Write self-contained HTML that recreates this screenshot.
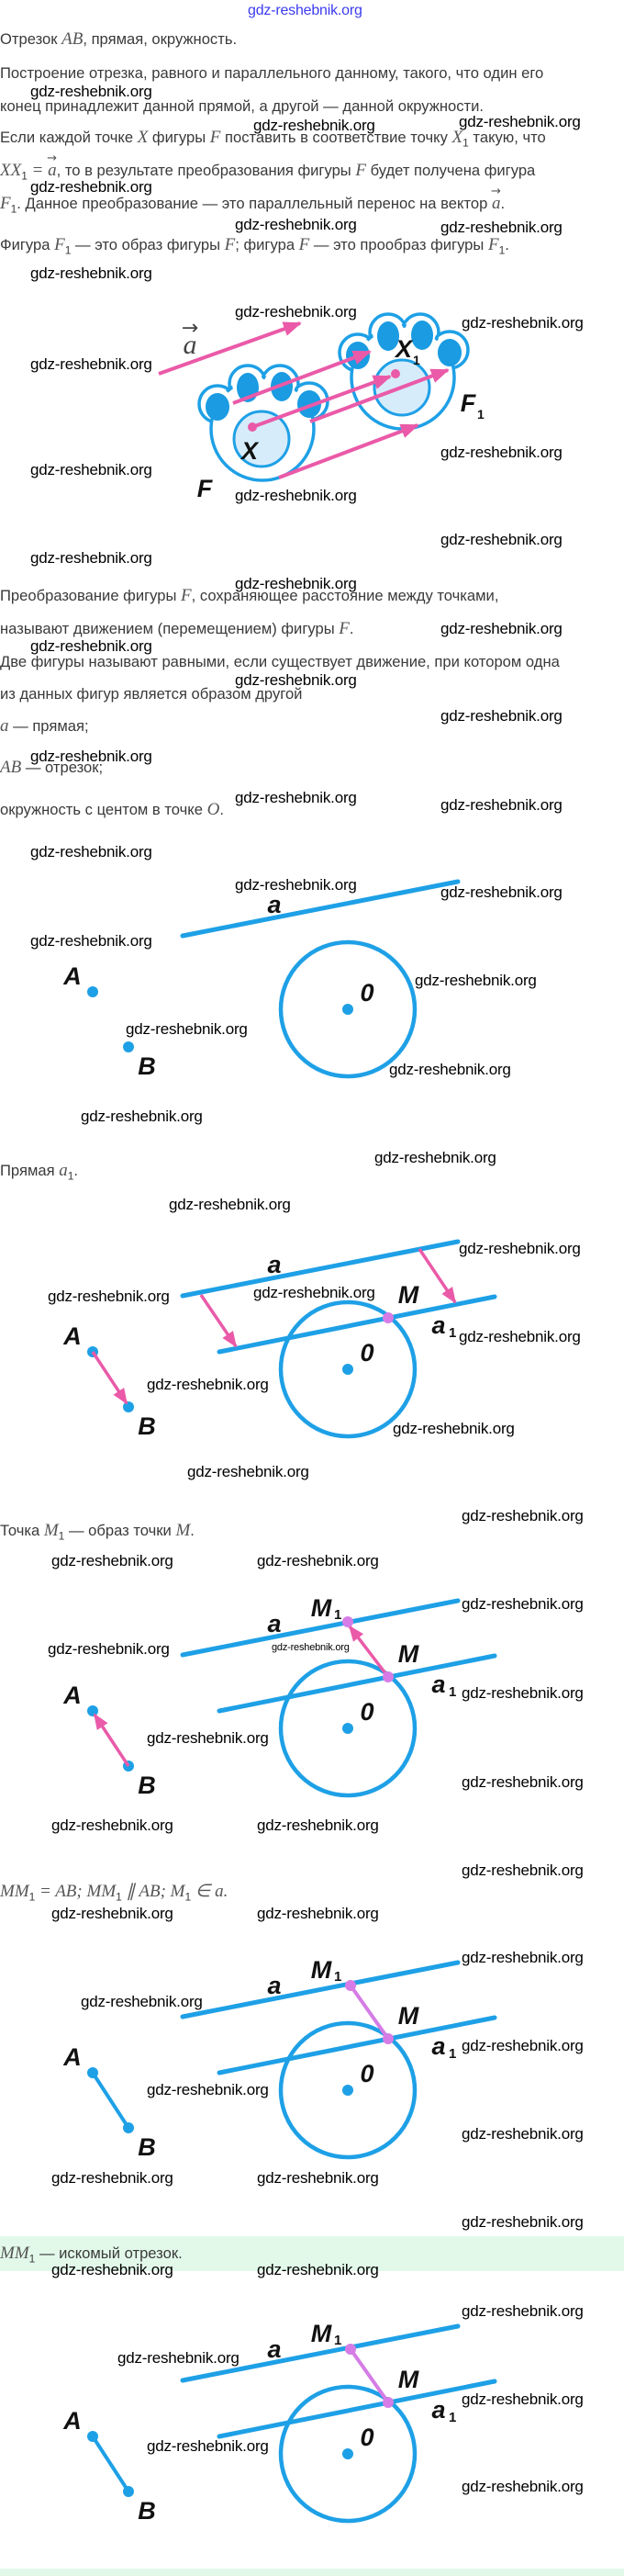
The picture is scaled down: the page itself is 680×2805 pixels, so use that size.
<!DOCTYPE html>
<html><head><meta charset="utf-8">
<style>
html,body{margin:0;padding:0;background:#fff;}
body{width:680px;height:2805px;position:relative;overflow:hidden;font-family:"Liberation Sans",sans-serif;}
.t{position:absolute;left:0;white-space:nowrap;font-size:16.6px;line-height:20px;color:#3a3a3a;}
.m{font-family:"Liberation Serif",serif;font-style:italic;font-size:19px;color:#555;}
.v{position:relative;display:inline-block;}
.v i{position:absolute;left:-1px;top:-13px;font-style:normal;font-family:"DejaVu Sans",sans-serif;font-size:13px;color:#555;}
.w{position:absolute;white-space:nowrap;font-size:17px;line-height:20px;color:#000;letter-spacing:-0.2px;}
.band{position:absolute;left:0;width:680px;background:#e2f9ea;}
svg{position:absolute;left:0;top:0;}
.lb{font-family:"Liberation Sans",sans-serif;font-style:italic;font-weight:bold;font-size:27px;fill:#111;}
</style></head><body>
<div class="band" style="top:2435px;height:38px"></div>
<div class="band" style="top:2797px;height:8px"></div>

<svg width="680" height="2805" viewBox="0 0 680 2805">
<defs>
<marker id="ar" viewBox="0 0 10 10" refX="9" refY="5" markerWidth="5" markerHeight="5" orient="auto" markerUnits="strokeWidth"><path d="M0,1 L10,5 L0,9 Z" fill="#ea5aa8"/></marker>
<g id="paw">
<circle cx="237" cy="440" r="20" fill="#fff" stroke="#1ea0e6" stroke-width="3.5"/>
<circle cx="270" cy="418" r="20" fill="#fff" stroke="#1ea0e6" stroke-width="3.5"/>
<circle cx="305" cy="418" r="20" fill="#fff" stroke="#1ea0e6" stroke-width="3.5"/>
<circle cx="337" cy="437" r="20" fill="#fff" stroke="#1ea0e6" stroke-width="3.5"/>
<circle cx="286" cy="467" r="56" fill="#fff" stroke="#1ea0e6" stroke-width="3.5"/>
<circle cx="237" cy="440" r="17" fill="#fff"/>
<circle cx="270" cy="418" r="17" fill="#fff"/>
<circle cx="305" cy="418" r="17" fill="#fff"/>
<circle cx="337" cy="437" r="17" fill="#fff"/>
<ellipse cx="237" cy="443" rx="13" ry="15" fill="#1a9be2"/>
<ellipse cx="270" cy="422" rx="12" ry="16" fill="#1a9be2"/>
<ellipse cx="307" cy="421" rx="12" ry="16" fill="#1a9be2"/>
<ellipse cx="337" cy="440" rx="13" ry="15" fill="#1a9be2"/>
<circle cx="285" cy="478" r="30" fill="#d6ecfa" stroke="#1ea0e6" stroke-width="3"/>
</g>
<g id="base">
<line x1="199" y1="1411" x2="499" y2="1352" stroke="#1ea0e6" stroke-width="5" stroke-linecap="round"/>
<circle cx="379" cy="1491" r="73" fill="none" stroke="#1ea0e6" stroke-width="4.5"/>
<circle cx="379" cy="1491" r="6" fill="#1ea0e6"/>
<circle cx="101" cy="1472" r="6" fill="#1ea0e6"/>
<circle cx="140" cy="1532" r="6" fill="#1ea0e6"/>
<text class="lb" x="299" y="1386" text-anchor="middle">a</text>
<text class="lb" x="400" y="1482" text-anchor="middle">0</text>
<text class="lb" x="79" y="1464" text-anchor="middle">A</text>
<text class="lb" x="160" y="1562" text-anchor="middle">B</text>
</g>
<g id="a1g">
<line x1="239" y1="1472" x2="539" y2="1412" stroke="#1ea0e6" stroke-width="5" stroke-linecap="round"/>
<text class="lb" x="445" y="1419" text-anchor="middle">M</text>
<text class="lb" x="478" y="1452" text-anchor="middle">a</text>
<text x="489" y="1456" font-family="Liberation Sans" font-weight="bold" font-size="15" fill="#111">1</text>
</g>
</defs>

<use href="#paw"/>
<use href="#paw" transform="translate(153,-56)"/>
<line x1="173" y1="407" x2="327" y2="352" stroke="#ea5aa8" stroke-width="4" marker-end="url(#ar)"/>
<text x="207" y="385" font-family="Liberation Serif" font-style="italic" font-size="30" fill="#444" text-anchor="middle">a</text>
<text x="207" y="364" font-family="DejaVu Sans" font-size="22" fill="#444" text-anchor="middle">→</text>
<line x1="254" y1="439" x2="403" y2="383" stroke="#ea5aa8" stroke-width="4" marker-end="url(#ar)"/>
<line x1="275" y1="465" x2="425" y2="410" stroke="#ea5aa8" stroke-width="4" marker-end="url(#ar)"/>
<line x1="338" y1="459" x2="488" y2="403" stroke="#ea5aa8" stroke-width="4" marker-end="url(#ar)"/>
<line x1="304" y1="520" x2="455" y2="463" stroke="#ea5aa8" stroke-width="4" marker-end="url(#ar)"/>
<circle cx="275" cy="465" r="5" fill="#ea5aa8"/>
<circle cx="431" cy="407" r="5" fill="#ea5aa8"/>
<text class="lb" x="272" y="500" text-anchor="middle">X</text>
<text class="lb" x="440" y="389" text-anchor="middle">X</text>
<text x="450" y="397" font-family="Liberation Sans" font-weight="bold" font-size="14" fill="#111">1</text>
<text class="lb" x="223" y="541" text-anchor="middle">F</text>
<text class="lb" x="510" y="448" text-anchor="middle">F</text>
<text x="520" y="456" font-family="Liberation Sans" font-weight="bold" font-size="14" fill="#111">1</text>

<use href="#base" transform="translate(0,-392)"/>

<use href="#base"/>
<use href="#a1g"/>
<line x1="219" y1="1410" x2="257" y2="1466" stroke="#ea5aa8" stroke-width="3.5" marker-end="url(#ar)"/>
<line x1="457" y1="1360" x2="496" y2="1418" stroke="#ea5aa8" stroke-width="3.5" marker-end="url(#ar)"/>
<line x1="101" y1="1472" x2="138" y2="1528" stroke="#ea5aa8" stroke-width="3.5" marker-end="url(#ar)"/>
<circle cx="423" cy="1435" r="6" fill="#d57ce6"/>

<g transform="translate(0,391)">
<use href="#base"/>
<use href="#a1g"/>
<line x1="140" y1="1532" x2="103" y2="1476" stroke="#ea5aa8" stroke-width="3.5" marker-end="url(#ar)"/>
<line x1="423" y1="1435" x2="381" y2="1380" stroke="#ea5aa8" stroke-width="3.5" marker-end="url(#ar)"/>
<circle cx="423" cy="1435" r="6" fill="#d57ce6"/>
<circle cx="379" cy="1375" r="6" fill="#d57ce6"/>
<text class="lb" x="350" y="1369" text-anchor="middle">M</text>
<text x="364" y="1372" font-family="Liberation Sans" font-weight="bold" font-size="15" fill="#111">1</text>
</g>

<g id="d4" transform="translate(0,785)">
<use href="#base"/>
<use href="#a1g"/>
<line x1="101" y1="1472" x2="140" y2="1532" stroke="#1ea0e6" stroke-width="4"/>
<line x1="423" y1="1435" x2="382" y2="1377" stroke="#d57ce6" stroke-width="4"/>
<circle cx="423" cy="1435" r="6" fill="#d57ce6"/>
<circle cx="382" cy="1377" r="6" fill="#d57ce6"/>
<text class="lb" x="350" y="1369" text-anchor="middle">M</text>
<text x="364" y="1372" font-family="Liberation Sans" font-weight="bold" font-size="15" fill="#111">1</text>
</g>
<use href="#d4" transform="translate(0,396)"/>
</svg>

<div class="w" style="left:270px;top:2px;color:#3b3bf0;font-size:16px">gdz-reshebnik.org</div>

<div class="t" style="top:33px">Отрезок <span class="m">AB</span>, прямая, окружность.</div>
<div class="t" style="top:70px">Построение отрезка, равного и параллельного данному, такого, что один его</div>
<div class="t" style="top:106px">конец принадлежит данной прямой, а другой — данной окружности.</div>
<div class="t" style="top:140px">Если каждой точке <span class="m">X</span> фигуры <span class="m">F</span> поставить в соответствие точку <span class="m">X</span><sub style="font-size:12px">1</sub> такую, что</div>
<div class="t" style="top:176px"><span class="m">XX</span><sub style="font-size:12px">1</sub> <span class="m">= </span><span class="m v">a<i>→</i></span>, то в результате преобразования фигуры <span class="m">F</span> будет получена фигура</div>
<div class="t" style="top:212px"><span class="m">F</span><sub style="font-size:12px">1</sub>. Данное преобразование — это параллельный перенос на вектор <span class="m v">a<i>→</i></span>.</div>
<div class="t" style="top:257px">Фигура <span class="m">F</span><sub style="font-size:12px">1</sub> — это образ фигуры <span class="m">F</span>; фигура <span class="m">F</span> — это прообраз фигуры <span class="m">F</span><sub style="font-size:12px">1</sub>.</div>

<div class="t" style="top:639px">Преобразование фигуры <span class="m">F</span>, сохраняющее расстояние между точками,</div>
<div class="t" style="top:675px">называют движением (перемещением) фигуры <span class="m">F</span>.</div>
<div class="t" style="top:711px">Две фигуры называют равными, если существует движение, при котором одна</div>
<div class="t" style="top:746px">из данных фигур является образом другой</div>
<div class="t" style="top:781px"><span class="m">a</span> — прямая;</div>
<div class="t" style="top:826px"><span class="m">AB</span> — отрезок;</div>
<div class="t" style="top:872px">окружность с центом в точке <span class="m">O</span>.</div>

<div class="t" style="top:1265px">Прямая <span class="m">a</span><sub style="font-size:12px">1</sub>.</div>
<div class="t" style="top:1657px">Точка <span class="m">M</span><sub style="font-size:12px">1</sub> — образ точки <span class="m">M</span>.</div>
<div class="t" style="top:2050px"><span class="m">MM</span><sub style="font-size:12px">1</sub> <span class="m">= AB; MM</span><sub style="font-size:12px">1</sub> <span class="m">∥ AB; M</span><sub style="font-size:12px">1</sub> <span class="m">∈ a.</span></div>
<div class="t" style="top:2444px"><span class="m">MM</span><sub style="font-size:12px">1</sub> — искомый отрезок.</div>

<div class="w" style="left:33px;top:90px">gdz-reshebnik.org</div>
<div class="w" style="left:276px;top:127px">gdz-reshebnik.org</div>
<div class="w" style="left:500px;top:123px">gdz-reshebnik.org</div>
<div class="w" style="left:33px;top:194px">gdz-reshebnik.org</div>
<div class="w" style="left:256px;top:235px">gdz-reshebnik.org</div>
<div class="w" style="left:480px;top:238px">gdz-reshebnik.org</div>
<div class="w" style="left:33px;top:288px">gdz-reshebnik.org</div>
<div class="w" style="left:256px;top:330px">gdz-reshebnik.org</div>
<div class="w" style="left:503px;top:342px">gdz-reshebnik.org</div>
<div class="w" style="left:33px;top:387px">gdz-reshebnik.org</div>
<div class="w" style="left:480px;top:483px">gdz-reshebnik.org</div>
<div class="w" style="left:33px;top:502px">gdz-reshebnik.org</div>
<div class="w" style="left:256px;top:530px">gdz-reshebnik.org</div>
<div class="w" style="left:480px;top:578px">gdz-reshebnik.org</div>
<div class="w" style="left:33px;top:598px">gdz-reshebnik.org</div>
<div class="w" style="left:256px;top:626px">gdz-reshebnik.org</div>
<div class="w" style="left:480px;top:675px">gdz-reshebnik.org</div>
<div class="w" style="left:33px;top:694px">gdz-reshebnik.org</div>
<div class="w" style="left:256px;top:731px">gdz-reshebnik.org</div>
<div class="w" style="left:480px;top:770px">gdz-reshebnik.org</div>
<div class="w" style="left:33px;top:814px">gdz-reshebnik.org</div>
<div class="w" style="left:256px;top:859px">gdz-reshebnik.org</div>
<div class="w" style="left:480px;top:867px">gdz-reshebnik.org</div>
<div class="w" style="left:33px;top:918px">gdz-reshebnik.org</div>
<div class="w" style="left:256px;top:954px">gdz-reshebnik.org</div>
<div class="w" style="left:480px;top:962px">gdz-reshebnik.org</div>
<div class="w" style="left:33px;top:1015px">gdz-reshebnik.org</div>
<div class="w" style="left:452px;top:1058px">gdz-reshebnik.org</div>
<div class="w" style="left:137px;top:1111px">gdz-reshebnik.org</div>
<div class="w" style="left:424px;top:1155px">gdz-reshebnik.org</div>

<div class="w" style="left:88px;top:1206px">gdz-reshebnik.org</div>
<div class="w" style="left:408px;top:1251px">gdz-reshebnik.org</div>
<div class="w" style="left:184px;top:1302px">gdz-reshebnik.org</div>
<div class="w" style="left:500px;top:1350px">gdz-reshebnik.org</div>
<div class="w" style="left:52px;top:1402px">gdz-reshebnik.org</div>
<div class="w" style="left:276px;top:1398px">gdz-reshebnik.org</div>
<div class="w" style="left:500px;top:1446px">gdz-reshebnik.org</div>
<div class="w" style="left:160px;top:1498px">gdz-reshebnik.org</div>
<div class="w" style="left:428px;top:1546px">gdz-reshebnik.org</div>
<div class="w" style="left:204px;top:1593px">gdz-reshebnik.org</div>
<div class="w" style="left:503px;top:1641px">gdz-reshebnik.org</div>
<div class="w" style="left:56px;top:1690px">gdz-reshebnik.org</div>
<div class="w" style="left:280px;top:1690px">gdz-reshebnik.org</div>
<div class="w" style="left:503px;top:1737px">gdz-reshebnik.org</div>
<div class="w" style="left:52px;top:1786px">gdz-reshebnik.org</div>
<div class="w" style="left:296px;top:1787px;font-size:11px;line-height:14px">gdz-reshebnik.org</div>
<div class="w" style="left:503px;top:1834px">gdz-reshebnik.org</div>
<div class="w" style="left:160px;top:1883px">gdz-reshebnik.org</div>
<div class="w" style="left:503px;top:1931px">gdz-reshebnik.org</div>
<div class="w" style="left:56px;top:1978px">gdz-reshebnik.org</div>
<div class="w" style="left:280px;top:1978px">gdz-reshebnik.org</div>
<div class="w" style="left:503px;top:2027px">gdz-reshebnik.org</div>
<div class="w" style="left:56px;top:2074px">gdz-reshebnik.org</div>
<div class="w" style="left:280px;top:2074px">gdz-reshebnik.org</div>
<div class="w" style="left:503px;top:2122px">gdz-reshebnik.org</div>
<div class="w" style="left:88px;top:2170px">gdz-reshebnik.org</div>
<div class="w" style="left:503px;top:2218px">gdz-reshebnik.org</div>
<div class="w" style="left:160px;top:2266px">gdz-reshebnik.org</div>
<div class="w" style="left:503px;top:2314px">gdz-reshebnik.org</div>
<div class="w" style="left:56px;top:2362px">gdz-reshebnik.org</div>
<div class="w" style="left:280px;top:2362px">gdz-reshebnik.org</div>
<div class="w" style="left:503px;top:2410px">gdz-reshebnik.org</div>
<div class="w" style="left:56px;top:2462px">gdz-reshebnik.org</div>
<div class="w" style="left:280px;top:2462px">gdz-reshebnik.org</div>
<div class="w" style="left:503px;top:2507px">gdz-reshebnik.org</div>
<div class="w" style="left:128px;top:2558px">gdz-reshebnik.org</div>
<div class="w" style="left:503px;top:2603px">gdz-reshebnik.org</div>
<div class="w" style="left:160px;top:2654px">gdz-reshebnik.org</div>
<div class="w" style="left:503px;top:2698px">gdz-reshebnik.org</div>
</body></html>
